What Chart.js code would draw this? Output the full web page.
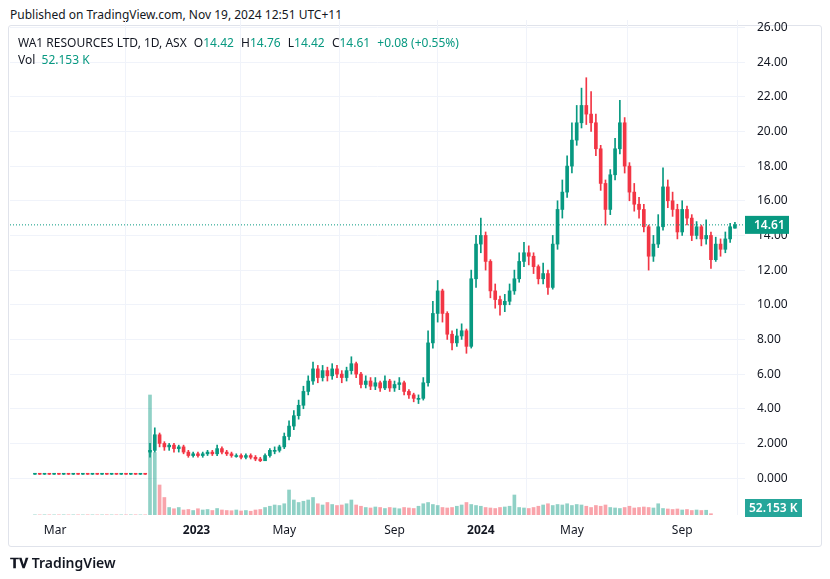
<!DOCTYPE html>
<html>
<head>
<meta charset="utf-8">
<script src="https://cdn.jsdelivr.net/npm/chart.js@4"></script>
<style>
  body { margin: 0; width: 830px; height: 579px; background: #fff; font-family: "Noto Sans", sans-serif; overflow: hidden; position: relative; }
  #pub { position: absolute; left: 10px; top: 6px; font-size: 12px; color: #131722; }
  #frame { position: absolute; left: 8px; top: 25px; width: 812px; height: 520px; border: 1px solid #e0e3eb; border-radius: 3px; }
  #wrap { position: absolute; left: 0; top: 0; width: 830px; height: 579px; }
  #legend { position: absolute; left: 18px; top: 34px; font-size: 12px; color: #131722; line-height: 17px; }
  #legend .g { color: #089981; }
  #legend span { margin-right: 4px; }
  #logo { position: absolute; left: 10px; top: 553px; font-size: 14px; color: #131722; font-weight: 600; }
</style>
</head>
<body>
<div id="pub">Published on TradingView.com, Nov 19, 2024 12:51 UTC+11</div>
<div id="frame"></div>
<div id="wrap"><canvas id="chart" width="830" height="579"></canvas></div>
<div id="legend">
  <div><span>WA1 RESOURCES LTD, 1D, ASX</span> <span>O<b class="g" style="font-weight:normal">14.42</b></span> <span>H<b class="g" style="font-weight:normal">14.76</b></span> <span>L<b class="g" style="font-weight:normal">14.42</b></span> <span>C<b class="g" style="font-weight:normal">14.61</b></span> <span class="g">+0.08 (+0.55%)</span></div>
  <div>Vol <span class="g">&nbsp;52.153 K</span></div>
</div>
<div id="logo">𝐓𝐕 TradingView</div>
<script>
// weekly candles, Feb 2022 .. Nov 2024
const opens = [0.22,0.23,0.22,0.23,0.22,0.23,0.22,0.23,0.22,0.23,0.22,0.23,0.22,0.23,0.22,0.23,0.22,0.23,0.22,0.23,0.22,0.23,0.22,0.23,
  1.5,1.6,2.5,2.0,1.8,1.9,1.7,1.8,1.5,1.3,1.4,1.3,1.4,1.5,1.4,1.7,1.5,1.4,1.3,1.3,1.2,1.3,1.2,1.1,1.0,1.3,1.6,1.6,1.8,2.4,3.0,3.6,4.2,5.0,5.6,6.3,
  5.8,6.2,5.9,6.3,6.0,5.8,6.2,6.6,6.0,5.4,5.6,5.3,5.5,5.2,5.6,5.2,5.4,5.5,5.0,4.8,4.6,4.6,5.5,7.8,9.5,10.8,9.5,8.3,7.8,8.2,8.5,7.6,11.5,13.5,14.0,
  12.5,10.8,10.3,10.0,10.2,10.8,11.5,12.5,13.0,12.8,12.2,11.5,11.8,11.0,13.5,15.5,16.5,18.0,19.5,20.5,21.5,21.0,20.5,19.0,17.0,15.5,17.5,19.0,20.5,
  18.0,16.5,15.8,15.5,14.5,12.8,13.5,14.5,16.8,16.0,15.5,14.2,15.5,15.0,14.0,14.5,13.8,14.0,12.6,13.5,13.2,13.8,14.42];
const highs = [0.24,0.24,0.24,0.24,0.24,0.24,0.24,0.24,0.24,0.24,0.24,0.24,0.24,0.24,0.24,0.24,0.24,0.24,0.24,0.24,0.24,0.24,0.24,0.24,
  2.0,2.9,2.6,2.1,2.0,2.0,1.9,1.9,1.6,1.5,1.5,1.5,1.6,1.6,1.9,1.8,1.6,1.5,1.4,1.4,1.4,1.4,1.3,1.2,1.4,1.7,1.8,1.9,2.6,3.3,3.9,4.5,5.3,5.9,6.7,
  6.5,6.5,6.4,6.6,6.5,6.2,6.4,7.0,6.7,6.1,5.9,5.8,5.8,5.6,5.9,5.7,5.6,5.8,5.6,5.1,4.9,4.8,5.8,8.5,10.2,11.4,10.9,9.6,8.5,8.6,8.9,8.6,12.0,14.0,15.0,
  14.2,12.6,11.2,10.5,10.6,11.2,12.0,13.0,13.6,13.4,13.0,12.3,12.4,12.0,14.0,16.0,17.2,18.6,20.5,21.5,22.5,23.1,22.3,21.0,19.2,17.2,17.8,19.6,21.8,
  20.8,18.2,17.0,16.2,15.8,14.6,14.0,15.2,17.9,17.2,16.5,15.8,16.0,15.7,15.2,14.8,14.6,14.9,14.2,13.9,13.8,14.2,14.7,14.76];
const lows = [0.21,0.21,0.21,0.21,0.21,0.21,0.21,0.21,0.21,0.21,0.21,0.21,0.21,0.21,0.21,0.21,0.21,0.21,0.21,0.21,0.21,0.21,0.21,0.21,
  1.2,1.5,1.8,1.6,1.6,1.5,1.5,1.4,1.2,1.2,1.2,1.2,1.3,1.3,1.3,1.4,1.3,1.2,1.2,1.1,1.1,1.1,1.0,0.95,1.0,1.2,1.4,1.5,1.7,2.2,2.8,3.4,4.0,4.8,5.4,
  5.5,5.6,5.6,5.7,5.8,5.5,5.6,6.0,5.8,5.2,5.2,5.1,5.1,5.0,5.1,5.0,5.0,5.1,4.8,4.6,4.4,4.3,4.5,5.3,7.5,9.0,9.0,8.0,7.4,7.6,8.0,7.2,7.5,11.0,13.0,
  12.0,10.4,9.8,9.4,9.6,10.0,10.6,11.3,12.2,12.3,11.8,11.2,11.2,10.6,10.9,13.2,15.0,16.2,17.6,19.2,20.2,20.4,20.0,18.6,16.6,14.6,15.2,17.2,18.7,
  17.6,16.0,15.4,15.0,14.2,12.0,12.5,13.3,14.3,15.6,15.1,13.8,14.0,14.6,13.7,13.8,13.4,13.5,12.1,12.5,12.8,13.0,13.6,14.42];
const closes = [0.23,0.22,0.23,0.22,0.23,0.22,0.23,0.22,0.23,0.22,0.23,0.22,0.23,0.22,0.23,0.22,0.23,0.22,0.23,0.22,0.23,0.22,0.23,0.22,
  1.6,2.5,2.0,1.8,1.9,1.7,1.8,1.5,1.3,1.4,1.3,1.4,1.5,1.4,1.7,1.5,1.4,1.3,1.3,1.2,1.3,1.2,1.1,1.0,1.3,1.6,1.6,1.8,2.4,3.0,3.6,4.2,5.0,5.6,6.3,
  5.8,6.2,5.9,6.3,6.0,5.8,6.2,6.6,6.0,5.4,5.6,5.3,5.5,5.2,5.6,5.2,5.4,5.5,5.0,4.8,4.6,4.6,5.5,7.8,9.5,10.8,9.5,8.3,7.8,8.2,8.5,7.6,11.5,13.5,14.0,
  12.5,10.8,10.3,10.0,10.2,10.8,11.5,12.5,13.0,12.8,12.2,11.5,11.8,11.0,13.5,15.5,16.5,18.0,19.5,20.5,21.5,21.0,20.5,19.0,17.0,15.5,17.5,19.0,20.5,
  18.0,16.5,15.8,15.5,14.5,12.8,13.5,14.5,16.8,16.0,15.5,14.2,15.5,15.0,14.0,14.5,13.8,14.0,12.6,13.5,13.2,13.8,14.5,14.61];
// volume in thousands
const volumes = [5,4,6,5,4,5,6,4,5,5,4,6,5,4,5,6,4,5,5,4,6,5,4,5,
  4800,2500,1200,700,300,250,300,200,220,180,250,200,220,180,260,200,180,170,200,160,180,150,200,220,300,350,400,380,450,1000,600,500,550,600,700,
  450,400,500,420,380,400,450,600,400,350,300,280,320,300,260,300,280,250,300,280,260,350,450,500,420,380,300,280,300,350,400,500,420,
  380,350,300,280,260,300,320,350,800,300,280,260,300,350,400,450,380,420,400,450,380,420,400,350,300,380,350,400,
  300,280,260,300,350,280,300,320,300,280,450,260,240,220,240,200,220,180,200,180,190,52.153];
const tickPos = [4.2, 33.7, 52, 75, 93, 112, 135];
const tickLabels = ['Mar', '2023', 'May', 'Sep', '2024', 'May', 'Sep'];
const lastClose = 14.61;
const lastVolLabel = '52.153 K';

const UP = '#089981', DOWN = '#f23645';
const idx = closes.map((_, i) => i);
const colorOf = i => closes[i] >= opens[i] ? UP : DOWN;

const tagPlugin = {
  id: 'tags',
  afterDraw(chart) {
    const { ctx, chartArea, scales } = chart;
    const y = scales.y.getPixelForValue(lastClose);
    ctx.save();
    ctx.strokeStyle = UP; ctx.setLineDash([1, 2]); ctx.lineWidth = 1;
    ctx.beginPath(); ctx.moveTo(chartArea.left, y); ctx.lineTo(chartArea.right, y); ctx.stroke();
    ctx.setLineDash([]);
    ctx.font = '600 12px "Noto Sans"'; ctx.textBaseline = 'middle';
    ctx.fillStyle = UP; ctx.fillRect(chartArea.right, y - 9, 44, 18);
    ctx.fillStyle = '#fff'; ctx.fillText(lastClose.toFixed(2), chartArea.right + 9, y + 1);
    const vy = chartArea.bottom - 7;
    ctx.fillStyle = '#26a69a'; ctx.fillRect(chartArea.right, vy - 9, 57, 18);
    ctx.fillStyle = '#fff'; ctx.fillText(lastVolLabel, chartArea.right + 4, vy + 1);
    ctx.restore();
  }
};

new Chart(document.getElementById('chart'), {
  type: 'bar',
  data: {
    datasets: [
      {
        label: 'vol', yAxisID: 'v', grouped: false, barThickness: 3,
        data: idx.map(i => ({ x: i, y: volumes[i] })),
        backgroundColor: idx.map(i => colorOf(i) === UP ? 'rgba(8,153,129,0.45)' : 'rgba(242,54,69,0.45)')
      },
      {
        label: 'wick', yAxisID: 'y', grouped: false, barThickness: 1,
        data: idx.map(i => ({ x: i, y: [lows[i], highs[i]] })),
        backgroundColor: idx.map(colorOf)
      },
      {
        label: 'body', yAxisID: 'y', grouped: false, barThickness: 3, minBarLength: 1,
        data: idx.map(i => ({ x: i, y: [opens[i], closes[i]] })),
        backgroundColor: idx.map(colorOf)
      }
    ]
  },
  options: {
    responsive: false, animation: false,
    layout: { padding: { left: 10, top: 20, right: 10, bottom: 34 } },
    plugins: { legend: { display: false }, tooltip: { enabled: false } },
    scales: {
      x: {
        type: 'linear', min: -5.2, max: 148.1, offset: false,
        afterBuildTicks: s => { s.ticks = tickPos.map(v => ({ value: v })); },
        afterFit: s => { s.height = 30; },
        grid: { color: '#f0f3fa', drawTicks: false },
        border: { display: false },
        ticks: {
          maxRotation: 0, autoSkip: false, padding: 8, color: '#131722',
          callback: (v, i) => tickLabels[i],
          font: c => ({ family: 'Noto Sans', size: 12, weight: /^\d{4}$/.test(tickLabels[c.index] || '') ? 'bold' : 'normal' })
        }
      },
      y: {
        position: 'right', min: -2.13, max: 26.43,
        afterBuildTicks: s => { const t = []; for (let v = 0; v <= 26; v += 2) t.push({ value: v }); s.ticks = t; },
        afterFit: s => { s.width = 75; },
        grid: { color: '#f0f3fa', drawTicks: false },
        border: { display: false },
        ticks: { padding: 12, color: '#131722', font: { family: 'Noto Sans', size: 12 },
          callback: v => v < 3 ? v.toFixed(3) : v.toFixed(2) }
      },
      v: { display: false, min: 0, max: 19800 }
    }
  },
  plugins: [tagPlugin]
});
</script>
</body>
</html>
